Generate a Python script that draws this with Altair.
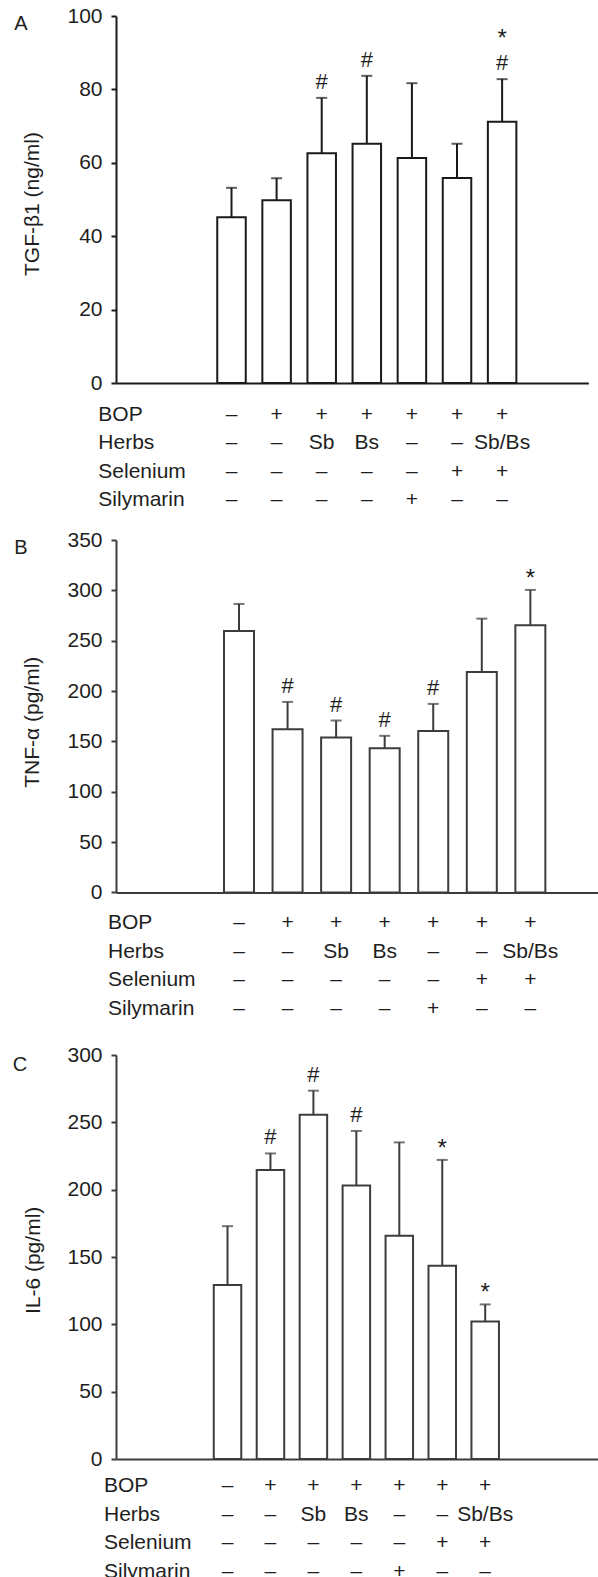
import altair as alt
import pandas as pd

# ---------------- data ----------------
rows = ["BOP", "Herbs", "Selenium", "Silymarin"]
bop = ["–", "+", "+", "+", "+", "+", "+"]
herbs = ["–", "–", "Sb", "Bs", "–", "–", "Sb/Bs"]
selenium = ["–", "–", "–", "–", "–", "+", "+"]
silymarin = ["–", "–", "–", "–", "+", "–", "–"]

tgf_mean = [45.2, 49.8, 62.6, 65.2, 61.3, 55.9, 71.2]
tgf_sd = [8.0, 6.0, 15.1, 18.5, 20.4, 9.3, 11.6]
tgf_sig1 = ["", "", "#", "#", "", "", "#"]
tgf_sig2 = ["", "", "", "", "", "", "*"]

tnf_mean = [259.7, 162.1, 153.8, 143.2, 160.4, 219.0, 265.3]
tnf_sd = [26.8, 27.1, 16.9, 12.3, 26.8, 52.9, 35.1]
tnf_sig1 = ["", "#", "#", "#", "#", "", "*"]
tnf_sig2 = ["", "", "", "", "", "", ""]

il6_mean = [129.3, 214.6, 255.6, 203.1, 165.7, 143.5, 102.1]
il6_sd = [43.6, 12.3, 17.9, 40.5, 69.4, 78.6, 12.7]
il6_sig1 = ["", "#", "#", "#", "", "*", "*"]
il6_sig2 = ["", "", "", "", "", "", ""]

FONT = "Liberation Sans"
TXT = "#1e1e1e"
FS = 21


def panel(letter, title, mean, sd, sig1, sig2, ymax, ystep, H, extra, W, xdom,
          barw, color, row_off, label_x, title_x, title_y, letter_xy,
          anchor=False):
    n = len(mean)
    df = pd.DataFrame({"g": list(range(n)), "mean": mean, "sd": sd,
                       "s1": sig1, "s2": sig2})
    df["upper"] = df["mean"] + df["sd"]

    xscale = alt.Scale(domain=xdom, nice=False, zero=False)
    xaxis = alt.Axis(title=None, labels=False, ticks=False, grid=False,
                     domainColor=color, domainWidth=2, offset=-extra)
    yscale = alt.Scale(domain=[0, ymax], nice=False, range=[H, 0])
    yaxis = alt.Axis(values=list(range(0, ymax + 1, ystep)), format="d",
                     title=title, grid=False, domainColor=color, domainWidth=2,
                     tickColor=color, tickWidth=2, tickSize=5, labelPadding=9,
                     labelFontSize=FS, labelColor=TXT, labelFont=FONT,
                     titleFont=FONT, titleFontSize=21, titleFontWeight="normal",
                     titleColor=TXT, titleAngle=270, titleAlign="center",
                     titleBaseline="middle", titleX=title_x, titleY=title_y)

    base = alt.Chart(df)
    X = alt.X("g:Q", scale=xscale, axis=xaxis)

    bars = base.mark_bar(size=barw, fill="white", stroke=color,
                         strokeWidth=2).encode(
        x=X, y=alt.Y("mean:Q", scale=yscale, axis=yaxis))
    err = base.mark_rule(color=color, strokeWidth=2).encode(
        x=X, y=alt.Y("mean:Q", scale=yscale, axis=yaxis), y2="upper:Q")
    caps = base.mark_tick(orient="horizontal", size=11, thickness=2,
                          color=color).encode(
        x=X, y=alt.Y("upper:Q", scale=yscale, axis=yaxis))
    hashes = base.transform_filter("datum.s1 == '#'").mark_text(
        font=FONT, fontSize=22, dy=-9, baseline="alphabetic",
        color=TXT).encode(x=X, y=alt.Y("upper:Q", scale=yscale, axis=yaxis),
                          text="s1:N")
    stars1 = base.transform_filter("datum.s1 == '*'").mark_text(
        font=FONT, fontSize=24, dy=-4, baseline="alphabetic",
        color=TXT).encode(x=X, y=alt.Y("upper:Q", scale=yscale, axis=yaxis),
                          text="s1:N")
    stars2 = base.transform_filter("datum.s2 == '*'").mark_text(
        font=FONT, fontSize=24, dy=-33, baseline="alphabetic",
        color=TXT).encode(x=X, y=alt.Y("upper:Q", scale=yscale, axis=yaxis),
                          text="s2:N")
    lab = alt.Chart(pd.DataFrame({"t": [letter]})).mark_text(
        font=FONT, fontSize=20, align="center", baseline="middle",
        color=TXT).encode(x=alt.value(letter_xy[0]),
                          y=alt.value(letter_xy[1]), text="t:N")

    layers = [bars, err, caps, hashes, stars1, stars2, lab]
    if anchor:
        # invisible (white) corner marker fixing the page's top-left extent
        anc = alt.Chart(pd.DataFrame({"a": [0]})).mark_rule(
            color="white", strokeWidth=1).encode(
            x=alt.value(-115.5), x2=alt.value(-114.5), y=alt.value(-14.7))
        layers.append(anc)
    inner = alt.layer(*layers)

    recs = []
    for r, vals in zip(rows, [bop, herbs, selenium, silymarin]):
        for g, v in enumerate(vals):
            recs.append({"row": r, "g": g, "v": v})
    tbl = pd.DataFrame(recs)
    ybase = H
    rscale = alt.Scale(type="point", domain=rows, padding=0,
                       range=[ybase + row_off[0], ybase + row_off[1]])
    table = alt.Chart(tbl).mark_text(font=FONT, fontSize=FS,
                                     baseline="middle", color=TXT).encode(
        x=X, y=alt.Y("row:N", scale=rscale, axis=None), text="v:N")
    rowlab = alt.Chart(pd.DataFrame({"row": rows})).mark_text(
        font=FONT, fontSize=FS, align="left", baseline="middle",
        color=TXT).encode(x=alt.value(label_x),
                          y=alt.Y("row:N", scale=rscale, axis=None),
                          text="row:N")

    return alt.layer(inner, table, rowlab).resolve_scale(y="independent") \
        .properties(width=W, height=H + extra)


pA = panel("A", "TGF-β1 (ng/ml)", tgf_mean, tgf_sd, tgf_sig1, tgf_sig2,
           100, 20, 367.1, 0, 472.3, [-2.45, 7.80], 28.5, "#1a1a1a",
           (31.6, 117.0), -17.7, -84, 187.5, (-95, 8), anchor=True)
pB = panel("B", "TNF-α (pg/ml)", tnf_mean, tnf_sd, tnf_sig1, tnf_sig2,
           350, 50, 352.4, 6, 482, [-2.43, 7.29], 30, "#3c3c3c",
           (31.0, 116.6), -8, -84, 181.7, (-95, 7.5))
pC = panel("C", "IL-6 (pg/ml)", il6_mean, il6_sd, il6_sig1, il6_sig2,
           300, 50, 404.0, 0, 482, [-2.48, 8.51], 27.5, "#3c3c3c",
           (27.0, 112.6), -12, -83, 204.9, (-96, 10))

chart = alt.vconcat(pA, pB, pC, spacing=156, bounds="flush").properties(
    autosize=alt.AutoSizeParams(type="pad"),
    padding={"left": 0, "top": 0, "right": 0, "bottom": 0},
    background="white",
).configure(font=FONT).configure_view(stroke=None)

chart.save("out.html", embed_options={"renderer": "svg", "actions": False})
